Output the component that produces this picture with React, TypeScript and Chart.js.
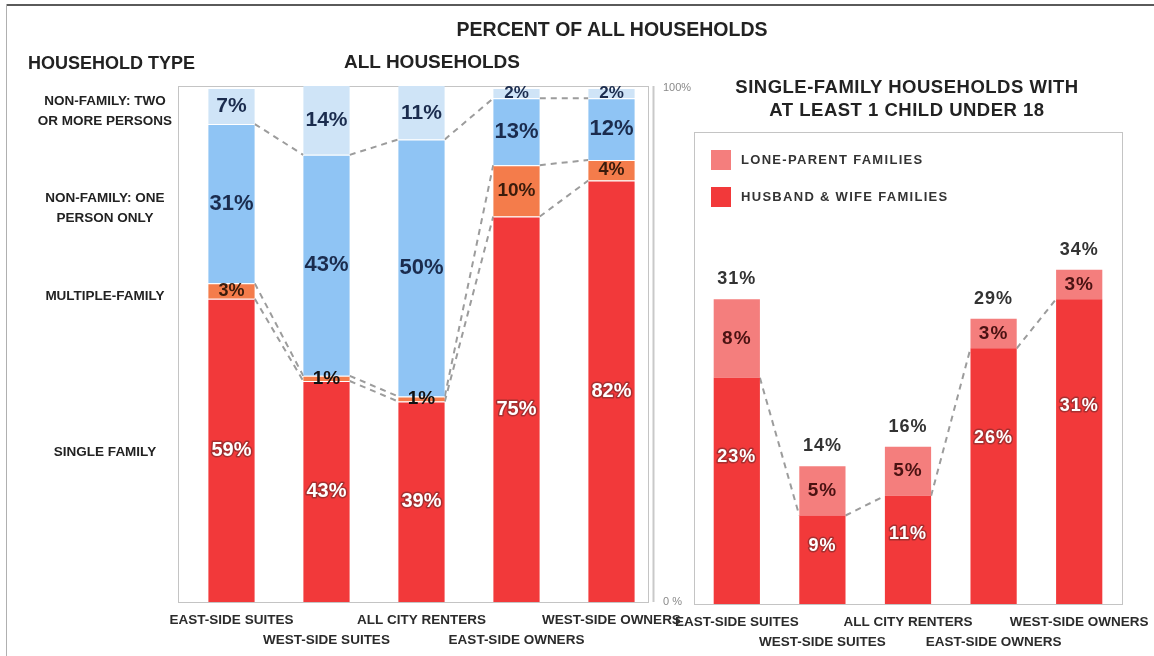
import React, { useEffect, useRef } from 'react';
import { Chart, registerables } from 'chart.js';

Chart.register(...registerables);

// ---------- data ----------
const categories = ['EAST-SIDE SUITES', 'WEST-SIDE SUITES', 'ALL CITY RENTERS', 'EAST-SIDE OWNERS', 'WEST-SIDE OWNERS'];
const singleFamily = [59, 43, 39, 75, 82];
const multipleFamily = [3, 1, 1, 10, 4];
const onePersonOnly = [31, 43, 50, 13, 12];
const twoOrMorePersons = [7, 14, 11, 2, 2];
const husbandWifeFamilies = [23, 9, 11, 26, 31];
const loneParentFamilies = [8, 5, 5, 3, 3];
const leftAxisTicks = [0, 100];
const householdTypeLabels = [
  ['NON-FAMILY: TWO', 'OR MORE PERSONS'],
  ['NON-FAMILY: ONE', 'PERSON ONLY'],
  ['MULTIPLE-FAMILY'],
  ['SINGLE FAMILY'],
];
const householdTypeRowY = [111, 208, 296, 452];

// ---------- style ----------
const FONT = "'Liberation Sans', Arial, Helvetica, sans-serif";
const RED = '#f2393a';
const ORANGE = '#f47c4b';
const BLUE = '#8fc4f4';
const LIGHT_BLUE = '#cfe4f7';
const PINK = '#f47e7d';

const staggered = categories.map((c, i) => (i % 2 === 0 ? [c, ''] : ['', c]));

const segLabels = {
  id: 'segLabels',
  afterDatasetsDraw(chart: any, _a: any, opts: any) {
    const ctx = chart.ctx;
    ctx.save();
    ctx.textAlign = 'center';
    ctx.textBaseline = 'middle';
    try { (ctx as any).letterSpacing = opts.ls || '0px'; } catch (e) { /* ignore */ }
    chart.data.datasets.forEach((ds: any, di: number) => {
      const st = opts.styles[di];
      if (!st) return;
      const meta = chart.getDatasetMeta(di);
      meta.data.forEach((el: any, i: number) => {
        const v = ds.data[i];
        const top = Math.max(el.y, chart.chartArea.top);
        const base = el.base;
        const anchor = st.anchor ?? 0.5;
        const cy = base - (base - top) * anchor;
        let size = st.size;
        let color = st.color;
        if (st.smallSize && v <= st.smallAt) size = st.smallSize;
        const tiny = st.tinyColor && v <= 1;
        if (tiny) { color = st.tinyColor; size = st.tinySize; }
        ctx.font = `bold ${size}px ${FONT}`;
        const txt = v + '%';
        if (st.outline && !tiny) {
          ctx.lineWidth = 3;
          ctx.lineJoin = 'round';
          ctx.strokeStyle = st.outline;
          ctx.strokeText(txt, el.x, cy);
        }
        ctx.fillStyle = color;
        ctx.fillText(txt, el.x, cy);
      });
    });
    if (opts.totals) {
      const last = chart.getDatasetMeta(chart.data.datasets.length - 1).data;
      ctx.font = `bold ${opts.totals.size}px ${FONT}`;
      ctx.fillStyle = opts.totals.color;
      last.forEach((el: any, i: number) => {
        let sum = 0;
        chart.data.datasets.forEach((ds: any) => { sum += ds.data[i]; });
        ctx.fillText(sum + '%', el.x, el.y - opts.totals.offset);
      });
    }
    ctx.restore();
  },
};

const connectors = {
  id: 'connectors',
  beforeDatasetsDraw(chart: any, _a: any, opts: any) {
    const ctx = chart.ctx;
    ctx.save();
    ctx.strokeStyle = opts.color;
    ctx.lineWidth = opts.width;
    ctx.setLineDash(opts.dash);
    opts.levels.forEach((di: number) => {
      const els = chart.getDatasetMeta(di).data;
      for (let i = 0; i < els.length - 1; i++) {
        const a = els[i];
        const b = els[i + 1];
        ctx.beginPath();
        ctx.moveTo(a.x + a.width / 2, a.y);
        ctx.lineTo(b.x - b.width / 2, b.y);
        ctx.stroke();
      }
    });
    ctx.restore();
  },
};

const frame = {
  id: 'frame',
  beforeDatasetsDraw(chart: any, _a: any, opts: any) {
    const { left, right, top, bottom } = chart.chartArea;
    const ctx = chart.ctx;
    ctx.save();
    ctx.strokeStyle = opts.color;
    ctx.lineWidth = 1;
    const l = left + opts.dl;
    const r = right + opts.dr;
    ctx.strokeRect(Math.round(l) + 0.5, Math.round(top) + 0.5, Math.round(r - l), Math.round(bottom - top));
    if (opts.axis != null) {
      const ax = Math.round(right + opts.axis) + 0.5;
      ctx.strokeStyle = opts.axisColor;
      ctx.lineWidth = 2;
      ctx.beginPath();
      ctx.moveTo(ax, top);
      ctx.lineTo(ax, bottom);
      ctx.stroke();
    }
    ctx.restore();
  },
};

const legendBox = {
  id: 'legendBox',
  afterDraw(chart: any, _a: any, opts: any) {
    const { left, top } = chart.chartArea;
    const ctx = chart.ctx;
    ctx.save();
    ctx.textBaseline = 'middle';
    ctx.textAlign = 'left';
    ctx.font = `bold 13px ${FONT}`;
    try { (ctx as any).letterSpacing = '1.3px'; } catch (e) { /* ignore */ }
    const order = [...chart.data.datasets.keys()].reverse();
    order.forEach((di: number, k: number) => {
      const ds = chart.data.datasets[di];
      const y = top + opts.y0 + k * opts.gap;
      ctx.fillStyle = ds.backgroundColor;
      ctx.fillRect(left + opts.x0, y, 20, 20);
      ctx.fillStyle = '#333';
      ctx.fillText(ds.label, left + opts.x0 + 30, y + 10);
    });
    ctx.restore();
  },
};

const tickFont = { family: FONT, size: 13.5, weight: 'bold' as const, lineHeight: 1.5 };

const fixX = (s: any) => {
  s.height = 50;
  s.paddingLeft = 0;
  s.paddingRight = 0;
};

export default function App() {
  const leftRef = useRef<HTMLCanvasElement>(null);
  const rightRef = useRef<HTMLCanvasElement>(null);

  useEffect(() => {
    document.body.style.margin = '0';
    const left = new Chart(leftRef.current as HTMLCanvasElement, {
      type: 'bar',
      data: {
        labels: staggered as any,
        datasets: [
          { label: 'SINGLE FAMILY', data: singleFamily, backgroundColor: RED },
          { label: 'MULTIPLE-FAMILY', data: multipleFamily, backgroundColor: ORANGE },
          { label: 'NON-FAMILY: ONE PERSON ONLY', data: onePersonOnly, backgroundColor: BLUE },
          { label: 'NON-FAMILY: TWO OR MORE PERSONS', data: twoOrMorePersons, backgroundColor: LIGHT_BLUE },
        ].map((d) => ({
          ...d,
          borderColor: 'rgba(255,255,255,0.75)',
          borderWidth: { top: 1, left: 0, right: 0, bottom: 0 },
          borderSkipped: false as any,
          barPercentage: 0.49,
          categoryPercentage: 1,
        })),
      },
      options: {
        animation: false,
        responsive: false,
        maintainAspectRatio: false,
        layout: { padding: { left: 184, top: 86, right: 0, bottom: 4 } },
        plugins: {
          legend: { display: false },
          tooltip: { enabled: false },
          segLabels: {
            styles: [
              { color: '#ffffff', size: 20, outline: 'rgba(110,40,40,0.55)', tinyColor: '#111', tinySize: 19 },
              { color: '#3a1c0c', size: 19, tinyColor: '#111', tinySize: 19, smallSize: 18, smallAt: 4 },
              { color: '#1b2c4e', size: 22 },
              { color: '#1b2c4e', size: 21, smallSize: 17, smallAt: 2 },
            ],
          },
          connectors: { levels: [0, 1, 2], color: '#9c9c9c', width: 2, dash: [6, 5] },
          frame: { color: '#c4c4c4', dl: -6, dr: -11, axis: -6, axisColor: '#c9c9c9' },
        } as any,
        scales: {
          x: {
            stacked: true,
            grid: { display: false, drawTicks: false },
            border: { display: false },
            ticks: { font: tickFont, color: '#2b2b2b', padding: 8, maxRotation: 0, minRotation: 0, autoSkip: false },
            afterFit: fixX,
          },
          y: {
            stacked: true,
            position: 'right',
            min: 0,
            max: 100.4,
            grid: { display: false, drawTicks: false },
            border: { display: false },
            afterBuildTicks: (s: any) => { s.ticks = leftAxisTicks.map((v) => ({ value: v })); },
            ticks: {
              callback: (v: any) => (v === 0 ? '0 %' : v + '%'),
              font: { family: FONT, size: 11 },
              color: '#8a8a8a',
              padding: 4,
            },
            afterFit: (s: any) => { s.width = 41; },
          },
        },
      },
      plugins: [frame, connectors, segLabels],
    });

    const right = new Chart(rightRef.current as HTMLCanvasElement, {
      type: 'bar',
      data: {
        labels: staggered as any,
        datasets: [
          { label: 'HUSBAND & WIFE FAMILIES', data: husbandWifeFamilies, backgroundColor: RED, barPercentage: 0.54, categoryPercentage: 1 },
          { label: 'LONE-PARENT FAMILIES', data: loneParentFamilies, backgroundColor: PINK, barPercentage: 0.54, categoryPercentage: 1 },
        ],
      },
      options: {
        animation: false,
        responsive: false,
        maintainAspectRatio: false,
        layout: { padding: { left: 24, top: 132, right: 32, bottom: 2 } },
        plugins: {
          legend: { display: false },
          tooltip: { enabled: false },
          segLabels: {
            ls: '1px',
            styles: [
              { color: '#ffffff', size: 18, outline: 'rgba(110,40,40,0.55)', anchor: 0.65 },
              { color: '#4a1212', size: 19 },
            ],
            totals: { color: '#333', size: 18, offset: 20 },
          },
          connectors: { levels: [0], color: '#9c9c9c', width: 2, dash: [6, 5] },
          frame: { color: '#c4c4c4', dl: 0, dr: 0, axis: null },
          legendBox: { x0: 17, y0: 18, gap: 37 },
        } as any,
        scales: {
          x: {
            stacked: true,
            grid: { display: false, drawTicks: false },
            border: { display: false },
            ticks: { font: tickFont, color: '#2b2b2b', padding: 8, maxRotation: 0, minRotation: 0, autoSkip: false },
            afterFit: fixX,
          },
          y: { stacked: true, display: false, min: 0, max: 48 },
        },
      },
      plugins: [frame, connectors, segLabels, legendBox],
    });

    return () => {
      left.destroy();
      right.destroy();
    };
  }, []);

  const text = (t: string, x: number, y: number, size: number, extra: any = {}) => (
    <div
      key={t + x + y}
      style={{
        position: 'absolute',
        left: x,
        top: y,
        transform: extra.align === 'left' ? 'translate(0,-50%)' : 'translate(-50%,-50%)',
        whiteSpace: 'nowrap',
        fontFamily: FONT,
        fontWeight: 'bold',
        fontSize: size,
        lineHeight: `${size}px`,
        color: '#222',
        letterSpacing: extra.ls ?? 'normal',
      }}
    >
      {t}
    </div>
  );

  return (
    <div style={{ position: 'fixed', left: 0, top: 0, width: 1154, height: 656, background: '#fff', overflow: 'hidden' }}>
      <div style={{ position: 'absolute', left: 7, top: 4, width: 1147, height: 2, background: '#5a5a5a' }} />
      <div style={{ position: 'absolute', left: 6, top: 4, width: 1, height: 652, background: '#b0b0b0' }} />
      <canvas ref={leftRef} width={700} height={656} style={{ position: 'absolute', left: 0, top: 0 }} />
      <canvas ref={rightRef} width={484} height={656} style={{ position: 'absolute', left: 670, top: 0 }} />
      {text('PERCENT OF ALL HOUSEHOLDS', 612, 30, 19.5)}
      {text('HOUSEHOLD TYPE', 28, 63, 18, { align: 'left' })}
      {text('ALL HOUSEHOLDS', 432, 61, 19)}
      {text('SINGLE-FAMILY HOUSEHOLDS WITH', 907, 87, 18.5, { ls: '0.5px' })}
      {text('AT LEAST 1 CHILD UNDER 18', 907, 110, 18.5, { ls: '0.5px' })}
      {householdTypeLabels.map((lines, k) =>
        lines.map((ln, j) => text(ln, 105, householdTypeRowY[k] + (j - (lines.length - 1) / 2) * 20, 13.5))
      )}
    </div>
  );
}
